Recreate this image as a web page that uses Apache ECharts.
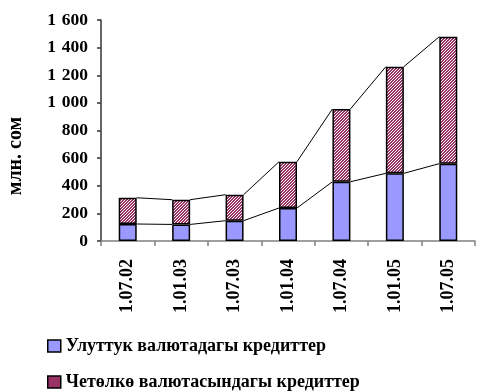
<!DOCTYPE html>
<html>
<head>
<meta charset="utf-8">
<script src="https://cdn.jsdelivr.net/npm/echarts@6/dist/echarts.min.js"></script>
<style>
  html, body { margin: 0; padding: 0; background: #fff; }
  #chart { width: 477px; height: 392px; }
</style>
</head>
<body>
<div id="chart"></div>
<script>
// Credit volumes, million som
const dates = ['1.07.02', '1.01.03', '1.07.03', '1.01.04', '1.07.04', '1.01.05', '1.07.05'];
const nationalCredits = [123, 120, 147, 239, 429, 490, 560];
const foreignCredits = [190, 179, 188, 335, 527, 772, 919];
const yTicks = [0, 200, 400, 600, 800, 1000, 1200, 1400, 1600];
const seriesNames = ['Улуттук валютадагы кредиттер', 'Четөлкө валютасындагы кредиттер'];
const unitLabel = 'млн. сом';

const FONT = "'Liberation Serif', 'Times New Roman', serif";
const BAR_W = 18;

// diagonal hatch fill for the foreign-currency segment
function hatchPattern() {
  const n = 3;
  const c = document.createElement('canvas');
  c.width = n; c.height = n;
  const g = c.getContext('2d');
  g.fillStyle = '#ffffff';
  g.fillRect(0, 0, n, n);
  g.fillStyle = '#993366';
  for (let y = 0; y < n; y++) {
    for (let x = 0; x < n; x++) {
      if ((x + y) % n !== 0) g.fillRect(x, y, 1, 1);
    }
  }
  return c;
}

const totals = nationalCredits.map((v, i) => v + foreignCredits[i]);

// connector segments between neighbouring bars (series lines)
function connectorData(vals) {
  const out = [];
  for (let i = 0; i < vals.length - 1; i++) out.push([i, vals[i], vals[i + 1]]);
  return out;
}

function connectorRender(params, api) {
  const i = api.value(0);
  const p0 = api.coord([i, api.value(1)]);
  const p1 = api.coord([i + 1, api.value(2)]);
  return {
    type: 'line',
    shape: { x1: p0[0] + BAR_W / 2, y1: p0[1], x2: p1[0] - BAR_W / 2, y2: p1[1] },
    style: { stroke: '#000', lineWidth: 1 }
  };
}

const chart = echarts.init(document.getElementById('chart'), null, { renderer: 'canvas' });

chart.setOption({
  animation: false,
  backgroundColor: '#fff',
  grid: { left: 101, right: 2, top: 20, bottom: 151 },
  graphic: [{
    type: 'text',
    x: 16,
    y: 156,
    rotation: Math.PI / 2,
    style: {
      text: unitLabel,
      align: 'center',
      verticalAlign: 'middle',
      fontFamily: FONT,
      fontWeight: 'bold',
      fontSize: 20,
      fill: '#000'
    }
  }],
  legend: {
    orient: 'vertical',
    left: 47,
    top: 337,
    padding: 0,
    itemWidth: 13,
    itemHeight: 12,
    itemGap: 18,
    icon: 'rect',
    textStyle: { fontFamily: FONT, fontWeight: 'bold', fontSize: 18, color: '#000' },
    data: [
      { name: seriesNames[0], itemStyle: { color: '#9999ff', borderColor: '#000', borderWidth: 1.5 } },
      { name: seriesNames[1], itemStyle: { color: '#993366', borderColor: '#000', borderWidth: 1.5 } }
    ]
  },
  xAxis: {
    type: 'category',
    data: dates,
    boundaryGap: true,
    axisLine: { lineStyle: { color: '#808080', width: 1.5 } },
    axisTick: { show: true, interval: 0, length: 5, lineStyle: { color: '#808080', width: 1.5 } },
    axisLabel: {
      rotate: 90, margin: 18, interval: 0,
      fontFamily: FONT, fontWeight: 'bold', fontSize: 18, color: '#000'
    }
  },
  yAxis: {
    type: 'value',
    min: yTicks[0],
    max: yTicks[yTicks.length - 1],
    interval: 200,
    axisLine: { show: true, lineStyle: { color: '#333', width: 1.5 } },
    axisTick: { show: true, length: 4, lineStyle: { color: '#333', width: 1.5 } },
    splitLine: { show: false },
    axisLabel: {
      margin: 13,
      fontFamily: FONT, fontWeight: 'bold', fontSize: 17.5, color: '#000',
      formatter: v => String(v).replace(/\B(?=(\d{3})+(?!\d))/g, '\u2004')
    }
  },
  series: [
    {
      name: seriesNames[0],
      type: 'bar',
      stack: 'credits',
      barWidth: BAR_W,
      data: nationalCredits,
      itemStyle: { color: '#9999ff', borderColor: '#000', borderWidth: 1.5 },
      z: 3
    },
    {
      name: seriesNames[1],
      type: 'bar',
      stack: 'credits',
      barWidth: BAR_W,
      data: foreignCredits,
      itemStyle: { color: { image: hatchPattern(), repeat: 'repeat' }, borderColor: '#000', borderWidth: 1.5 },
      z: 3
    },
    {
      type: 'custom',
      renderItem: connectorRender,
      data: connectorData(nationalCredits),
      z: 2,
      silent: true
    },
    {
      type: 'custom',
      renderItem: connectorRender,
      data: connectorData(totals),
      z: 2,
      silent: true
    }
  ]
});
</script>
</body>
</html>
